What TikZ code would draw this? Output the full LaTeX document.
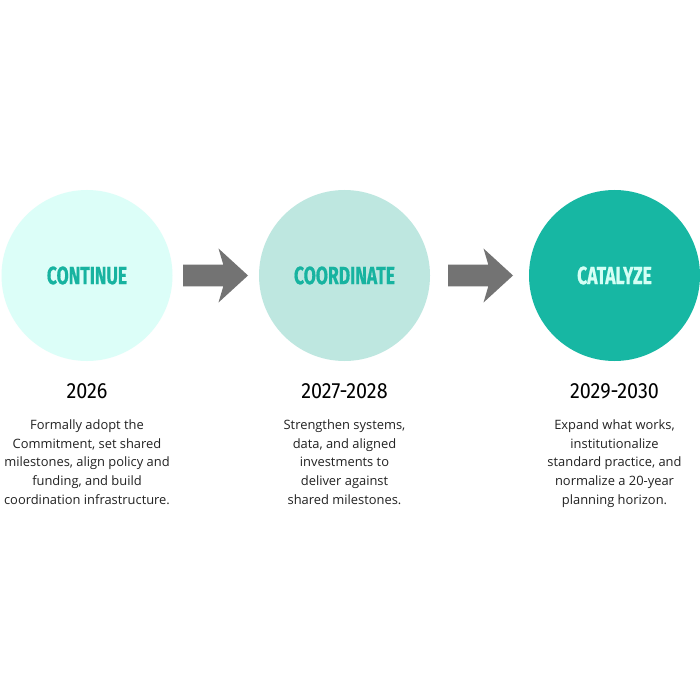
\documentclass[tikz,border=0pt]{standalone}
\usepackage{fontspec}
\setmainfont{Open Sans}
\newfontfamily\labelfont[FakeStretch=0.70,BoldFeatures={FakeBold=0.5}]{Fira Sans}
\newfontfamily\yearfont[FakeStretch=0.90]{Fira Sans}
\definecolor{cone}{RGB}{220,254,248}
\definecolor{ctwo}{RGB}{190,231,224}
\definecolor{cthree}{RGB}{23,183,163}
\definecolor{tealtext}{RGB}{23,179,160}
\definecolor{minttext}{RGB}{212,255,245}
\definecolor{arrowgray}{RGB}{115,115,115}
\definecolor{bodytext}{RGB}{34,34,34}
\tikzset{
  phase/.style={circle, minimum size=171pt, inner sep=0pt, draw=none,
    font=\labelfont\bfseries\fontsize{25}{25}\selectfont},
  yearlabel/.style={anchor=base, text=black, font=\yearfont\fontsize{22}{22}\selectfont},
  bodylabel/.style={anchor=base, align=center, text=bodytext,
    font=\fontsize{12.9}{18.7}\selectfont},
  fatarrow/.style={fill=arrowgray, draw=none}
}
\newcommand{\phasearrow}[1]{%
  \fill[fatarrow] ([shift={(-32.5,-10.8)}]#1) -- ([shift={(7.8,-10.8)}]#1)
    -- ([shift={(3,-27)}]#1) -- ([shift={(32.5,0)}]#1) -- ([shift={(3,27)}]#1)
    -- ([shift={(7.8,10.8)}]#1) -- ([shift={(-32.5,10.8)}]#1) -- cycle;}
\begin{document}
\begin{tikzpicture}[x=1pt,y=-1pt]
\useasboundingbox (0,0) rectangle (700,700);
\fill[white] (0,0) rectangle (700,700);

\node[phase, fill=cone, text=tealtext] (p1) at (87,275.5) {CONTINUE};
\node[phase, fill=ctwo, text=tealtext] (p2) at (344.5,275.5) {COORDINATE};
\node[phase, fill=cthree, text=minttext] (p3) at (614.5,275.5) {CATALYZE};

\coordinate (m1) at (215.5,275.5);
\coordinate (m2) at (480.5,275.5);
\phasearrow{m1}
\phasearrow{m2}

\node[yearlabel] (y1) at (87,398) {2026};
\node[yearlabel] (y2) at (344.5,398) {2027-2028};
\node[yearlabel] (y3) at (614.5,398) {2029-2030};

\node[bodylabel] (b1) at (87,504.1) {Formally adopt the\\Commitment, set shared\\milestones, align policy and\\funding, and build\\coordination infrastructure.};
\node[bodylabel] (b2) at (344.5,504.1) {Strengthen systems,\\data, and aligned\\investments to\\deliver against\\shared milestones.};
\node[bodylabel] (b3) at (614.5,504.1) {Expand what works,\\institutionalize\\standard practice, and\\normalize a 20-year\\planning horizon.};
\end{tikzpicture}
\end{document}
